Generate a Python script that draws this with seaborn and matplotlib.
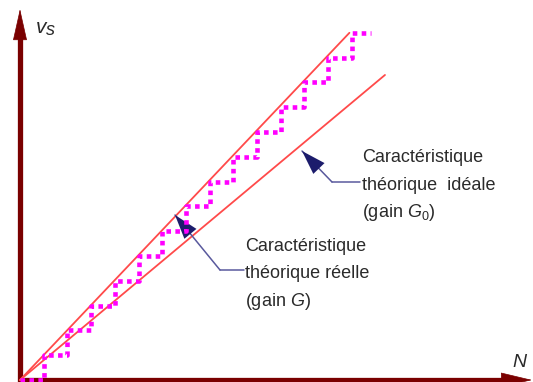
import matplotlib
matplotlib.use("Agg")
import matplotlib.pyplot as plt
import seaborn as sns
import pandas as pd

# Quantised output: staircase (N, level) points, drawn with steps-post
step_N = [0, 1, 2, 3, 4, 5, 6, 7, 8, 9, 10, 11, 12, 13, 14, 14.8]
step_level = [0, 1, 2, 3, 4, 5, 6, 7, 8, 9, 10, 11, 12, 13, 14, 14]

# Theoretical characteristics (end points of each straight line)
real_N = [0, 13.9]       # gain G
real_v = [0, 14.0]
ideal_N = [0, 15.4]      # gain G0
ideal_v = [0, 12.3]

label_ideal = ["Caractéristique", "théorique  idéale", "(gain $G_0$)"]
label_real = ["Caractéristique", "théorique réelle", "(gain $G$)"]

W, H = 533, 382
AXIS_RED = "#7a0000"
LINE_RED = "#ff4a4a"
MAGENTA = "#ff00ff"
NAVY_LINE = "#5a5a9e"
NAVY_HEAD = "#1c1c6c"
TEXT = "#2a2a2a"

sns.set_theme(style="white")
plt.rcParams["font.family"] = ["Liberation Sans", "DejaVu Sans"]
plt.rcParams["mathtext.fontset"] = "custom"
plt.rcParams["mathtext.rm"] = "Liberation Sans"
plt.rcParams["mathtext.it"] = "Liberation Sans:italic"

fig = plt.figure(figsize=(W / 100, H / 100), dpi=100)
ax = fig.add_axes([0, 0, 1, 1])

# data limits chosen so that the origin sits at the axes corner
step_px_x, step_px_y = 23.7, 24.8
ax.set_xlim(-20 / step_px_x, (W - 20) / step_px_x)
ax.set_ylim(-(H - 380) / step_px_y, 380 / step_px_y)


def px(x, y):
    return (x / W, 1 - y / H)


# axes with arrow heads
ax.plot([20 / W, 20 / W], [0, 1 - 30 / H], color=AXIS_RED, lw=3.8,
        transform=ax.transAxes, solid_capstyle="butt", zorder=3)
ax.plot([18 / W, 1 - 20 / W], [1 - 380 / H] * 2, color=AXIS_RED, lw=3.8,
        transform=ax.transAxes, solid_capstyle="butt", zorder=3)
ax.annotate("", xy=px(20, 9), xytext=px(20, 45), xycoords="axes fraction",
            textcoords="axes fraction",
            arrowprops=dict(arrowstyle="-|>,head_length=2.1,head_width=0.47",
                            color=AXIS_RED, lw=0.5, shrinkA=0, shrinkB=0,
                            mutation_scale=10), zorder=3)
ax.annotate("", xy=px(532, 380), xytext=px(495, 380), xycoords="axes fraction",
            textcoords="axes fraction",
            arrowprops=dict(arrowstyle="-|>,head_length=2.1,head_width=0.5",
                            color=AXIS_RED, lw=0.5, shrinkA=0, shrinkB=0,
                            mutation_scale=10), zorder=3)

# characteristic lines
sns.lineplot(x=real_N, y=real_v, ax=ax, color=LINE_RED, lw=1.3, zorder=4)
sns.lineplot(x=ideal_N, y=ideal_v, ax=ax, color=LINE_RED, lw=1.3, zorder=4)

# quantised staircase, dotted
stairs = pd.DataFrame({"N": step_N, "level": step_level})
sns.lineplot(data=stairs, x="N", y="level", ax=ax, color=MAGENTA, lw=3.3,
             drawstyle="steps-post", dashes=False, zorder=6,
             linestyle=(0, (1, 0.95)), dash_capstyle="butt")

ax.axis("off")

# axis names
ax.text(*px(36, 33), "v", transform=ax.transAxes, fontsize=15, style="italic",
        color=TEXT, va="baseline", ha="left")
ax.text(*px(46, 35), "s", transform=ax.transAxes, fontsize=13, style="italic",
        color=TEXT, va="baseline", ha="left")
ax.text(*px(512, 367), "N", transform=ax.transAxes, fontsize=14,
        style="italic", color=TEXT, va="baseline", ha="left")

# callouts
for lines, x0, baselines in [(label_ideal, 362, [162, 189.5, 217]),
                             (label_real, 245, [251, 278, 306])]:
    for txt, yb in zip(lines, baselines):
        ax.text(*px(x0, yb), txt, transform=ax.transAxes, fontsize=13,
                color=TEXT, va="baseline", ha="left")

for tip, elbow, end in [((302, 151), (332, 182), (360, 182)),
                        ((175, 215), (220, 270), (244, 270))]:
    ax.plot([elbow[0] / W, end[0] / W], [1 - elbow[1] / H, 1 - end[1] / H],
            color=NAVY_LINE, lw=1.1, transform=ax.transAxes, zorder=5)
    ax.annotate("", xy=px(*tip), xytext=px(*elbow), xycoords="axes fraction",
                textcoords="axes fraction",
                arrowprops=dict(arrowstyle="-",
                                color=NAVY_LINE, lw=1.1, shrinkA=0, shrinkB=0),
                zorder=5)
    ax.annotate("", xy=px(*tip), xytext=px(*elbow), xycoords="axes fraction",
                textcoords="axes fraction",
                arrowprops=dict(arrowstyle="-|>,head_length=1.25,head_width=0.4",
                                color=NAVY_HEAD, lw=0.01, shrinkA=0, shrinkB=0,
                                mutation_scale=14, linestyle="-"),
                zorder=5)

fig.savefig("out.png", dpi=100)
